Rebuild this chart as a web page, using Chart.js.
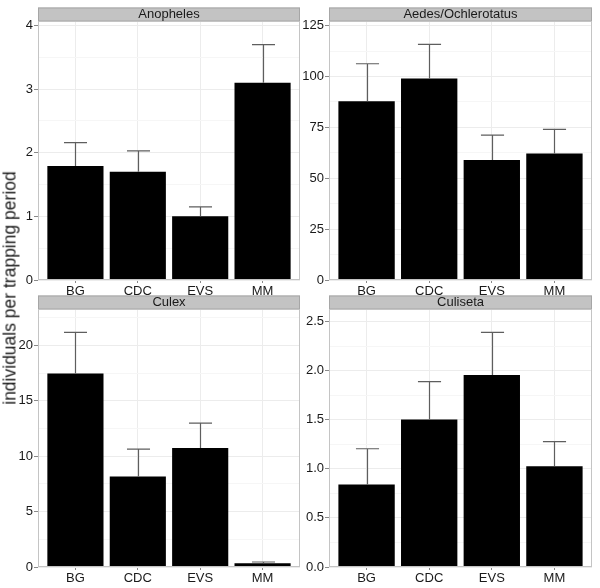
<!DOCTYPE html>
<html lang="en">
<head>
  <meta charset="utf-8" />
  <title>Trap comparison by genus</title>
  <script src="https://cdn.jsdelivr.net/npm/chart.js@4.4.1/dist/chart.umd.min.js"></script>
  <style>
    html, body { margin: 0; padding: 0; background: #fff; }
    #wrap { position: relative; width: 600px; height: 588px; overflow: hidden; }
    #wrap canvas { position: absolute; }
    #ytitle {
      position: absolute; left: 10px; top: 288px;
      transform: translate(-50%, -50%) rotate(-90deg);
      white-space: nowrap;
      font: 17.5px "Liberation Sans", Arial, sans-serif;
      color: #1a1a1a;
    }
  </style>
</head>
<body>
<div id="wrap">
  <canvas id="c1" width="301" height="298" style="left:0;top:0"></canvas>
  <canvas id="c2" width="292" height="298" style="left:301px;top:0"></canvas>
  <canvas id="c3" width="301" height="298" style="left:0;top:290px"></canvas>
  <canvas id="c4" width="292" height="298" style="left:301px;top:290px"></canvas>
  <div id="ytitle">individuals per trapping period</div>
</div>

<script>
// trap types on the x axis
const traps = ['BG', 'CDC', 'EVS', 'MM'];

// mean catch per trapping period, and top of the error bar
const anophelesMean  = [1.79, 1.70, 1.00, 3.10];
const anophelesUpper = [2.16, 2.03, 1.15, 3.70];
const aedesMean  = [87.8, 99.0, 59.0, 62.2];
const aedesUpper = [106.3, 115.8, 71.2, 74.0];
const culexMean  = [17.47, 8.17, 10.74, 0.33];
const culexUpper = [21.18, 10.65, 13.0, 0.45];
const culisetaMean  = [0.84, 1.503, 1.956, 1.027];
const culisetaUpper = [1.204, 1.888, 2.388, 1.276];

// y tick labels per panel
const anophelesTicks = ['0', '1', '2', '3', '4'];
const aedesTicks = ['0', '25', '50', '75', '100', '125'];
const culexTicks = ['0', '5', '10', '15', '20'];
const culisetaTicks = ['0.0', '0.5', '1.0', '1.5', '2.0', '2.5'];

// upper end of each y axis
const anophelesMax = 4.07;
const aedesMax = 127.3;
const culexMax = 23.3;
const culisetaMax = 2.627;

const FONT = '"Liberation Sans", Arial, sans-serif';

// grey strip with panel name, plus panel border
const stripPlugin = {
  id: 'strip',
  afterDraw(chart, args, opts) {
    const a = chart.chartArea;
    const c = chart.ctx;
    c.save();
    c.fillStyle = '#c3c3c3';
    c.fillRect(a.left, a.top - 13.5, a.right - a.left, 13.5);
    c.strokeStyle = '#a6a6a6';
    c.lineWidth = 1;
    c.strokeRect(a.left + 0.5, a.top - 13, a.right - a.left - 1, 13);
    c.fillStyle = '#1a1a1a';
    c.font = '13px ' + FONT;
    c.textAlign = 'center';
    c.textBaseline = 'middle';
    c.fillText(opts.title, (a.left + a.right) / 2, a.top - 6.5);
    c.strokeStyle = '#c4c4c4';
    c.strokeRect(a.left + 0.5, a.top + 0.5, a.right - a.left - 1, a.bottom - a.top - 1);
    c.restore();
  }
};

// upper error bars: stem from the bar top plus a cap
const errorBarPlugin = {
  id: 'errbars',
  afterDatasetsDraw(chart, args, opts) {
    const meta = chart.getDatasetMeta(0);
    const y = chart.scales.y;
    const c = chart.ctx;
    c.save();
    c.strokeStyle = '#5e5e5e';
    c.lineWidth = 1.2;
    meta.data.forEach((bar, i) => {
      const x = Math.round(bar.x) + 0.5;
      const yTop = y.getPixelForValue(opts.upper[i]);
      const yMid = y.getPixelForValue(opts.mean[i]);
      const half = bar.width * 0.205;
      c.beginPath();
      c.moveTo(x, yMid);
      c.lineTo(x, yTop);
      c.moveTo(x - half, yTop);
      c.lineTo(x + half, yTop);
      c.stroke();
    });
    c.restore();
  }
};

function makePanel(id, title, mean, upper, tickLabels, yMax, axisW, padTop, xAxisH) {
  const majors = tickLabels.map(s => parseFloat(s));
  const step = majors[1] - majors[0];
  // bars sit at positions 1..4 of a numeric axis so the side margin can be 0.6
  const points = mean.map((v, i) => ({ x: i + 1, y: v }));
  return new Chart(document.getElementById(id), {
    type: 'bar',
    data: {
      datasets: [{
        data: points,
        backgroundColor: '#000',
        borderWidth: 0,
        categoryPercentage: 1.0,
        barPercentage: 0.9
      }]
    },
    options: {
      responsive: false,
      animation: false,
      events: [],
      layout: { padding: { top: padTop, right: 1, left: 0, bottom: 0 } },
      plugins: {
        legend: { display: false },
        tooltip: { enabled: false },
        strip: { title: title },
        errbars: { mean: mean, upper: upper }
      },
      scales: {
        x: {
          type: 'linear',
          min: 0.4,
          max: traps.length + 0.6,
          offset: false,
          grid: {
            offset: false,
            color: '#ececec',
            tickColor: '#8a8a8a',
            tickLength: 3,
            drawTicks: true
          },
          border: { display: false },
          ticks: {
            color: '#1a1a1a',
            font: { family: FONT, size: 13 },
            padding: 1,
            autoSkip: false,
            maxRotation: 0,
            callback(value) { return traps[Math.round(value) - 1] || ''; }
          },
          afterBuildTicks(scale) {
            scale.ticks = traps.map((t, i) => ({ value: i + 1 }));
          },
          afterFit(scale) { scale.height = xAxisH; }
        },
        y: {
          min: 0,
          max: yMax,
          grid: {
            color: ctx => (ctx.tick && ctx.tick.minor) ? '#f6f6f6' : '#ececec',
            tickColor: ctx => (ctx.tick && ctx.tick.minor) ? 'rgba(0,0,0,0)' : '#8a8a8a',
            tickLength: 4,
            drawTicks: true
          },
          border: { display: false },
          ticks: {
            color: '#1a1a1a',
            font: { family: FONT, size: 13 },
            padding: 1,
            autoSkip: false,
            callback(value, index, ticks) {
              const t = ticks[index];
              if (t.minor) return '';
              const k = majors.findIndex(m => Math.abs(m - value) < 1e-9);
              return k >= 0 ? tickLabels[k] : '';
            }
          },
          afterBuildTicks(scale) {
            const list = [];
            majors.forEach(m => {
              list.push({ value: m });
              if (m + step / 2 <= yMax) list.push({ value: m + step / 2, minor: true });
            });
            scale.ticks = list;
          },
          afterFit(scale) { scale.width = axisW; }
        }
      }
    },
    plugins: [stripPlugin, errorBarPlugin]
  });
}

window.addEventListener('load', () => {
  makePanel('c1', 'Anopheles', anophelesMean, anophelesUpper, anophelesTicks, anophelesMax, 38, 21, 18);
  makePanel('c2', 'Aedes/Ochlerotatus', aedesMean, aedesUpper, aedesTicks, aedesMax, 28, 21, 18);
  makePanel('c3', 'Culex', culexMean, culexUpper, culexTicks, culexMax, 38, 19, 21);
  makePanel('c4', 'Culiseta', culisetaMean, culisetaUpper, culisetaTicks, culisetaMax, 28, 19, 21);
});
</script>
</body>
</html>
